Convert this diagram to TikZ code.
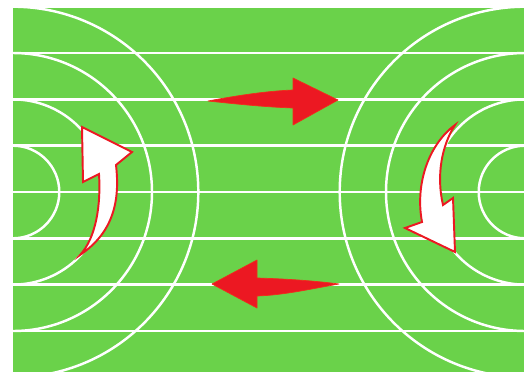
\documentclass[tikz,border=0pt]{standalone}
\definecolor{field}{RGB}{106,210,74}
\definecolor{arrred}{RGB}{236,24,34}
\tikzset{
  lane/.style={white, line width=1.4pt},
  redarrow/.style={fill=arrred, draw=arrred!80!orange, line width=0.4pt, line join=round},
  whitearrow/.style={fill=white, draw=arrred, line width=1.1pt, line join=miter}
}
\begin{document}
\begin{tikzpicture}[x=0.02cm, y=-0.02cm]
  \useasboundingbox (0,0) rectangle (526,372);
  \fill[white] (0,0) rectangle (526,372);
  \fill[field] (13,8) rectangle (524,372);
  \begin{scope}
    \clip (13,8) rectangle (524,372);
    \foreach \yy in {53,99.3,145.6,192,238.3,284.6,331}
      \draw[lane] (13,\yy) -- (524,\yy);
    \foreach \r in {46.3,92.6,139,185.3} {
      \draw[lane] (13,192) circle [radius=\r];
      \draw[lane] (525,192) circle [radius=\r];
    }
  \end{scope}
  % top red arrow (to the right)
  \path[redarrow] (208,101) .. controls (240,95) and (268,91) .. (293,90)
    -- (293,78) -- (338,100) -- (293,125) -- (293,108)
    .. controls (265,107) and (236,104) .. (208,101) -- cycle;
  % bottom red arrow (to the left)
  \path[redarrow] (212,284) -- (257,260) -- (257,278)
    .. controls (290,279) and (316,281) .. (339,284)
    .. controls (310,289) and (285,295) .. (257,296)
    -- (257,308) -- cycle;
  % left white curved arrow (upward)
  \path[whitearrow] (82,127) -- (132,152) -- (116,165)
    .. controls (120,200) and (114,232) .. (80,255)
    .. controls (96,238) and (101,205) .. (99,174)
    -- (83,182) -- cycle;
  % right white curved arrow (downward)
  \path[whitearrow] (455,125) .. controls (428,145) and (415,185) .. (422,222)
    -- (405,228) -- (455,252) -- (453,198) -- (443,205)
    .. controls (436,175) and (442,145) .. (455,125) -- cycle;
\end{tikzpicture}
\end{document}
